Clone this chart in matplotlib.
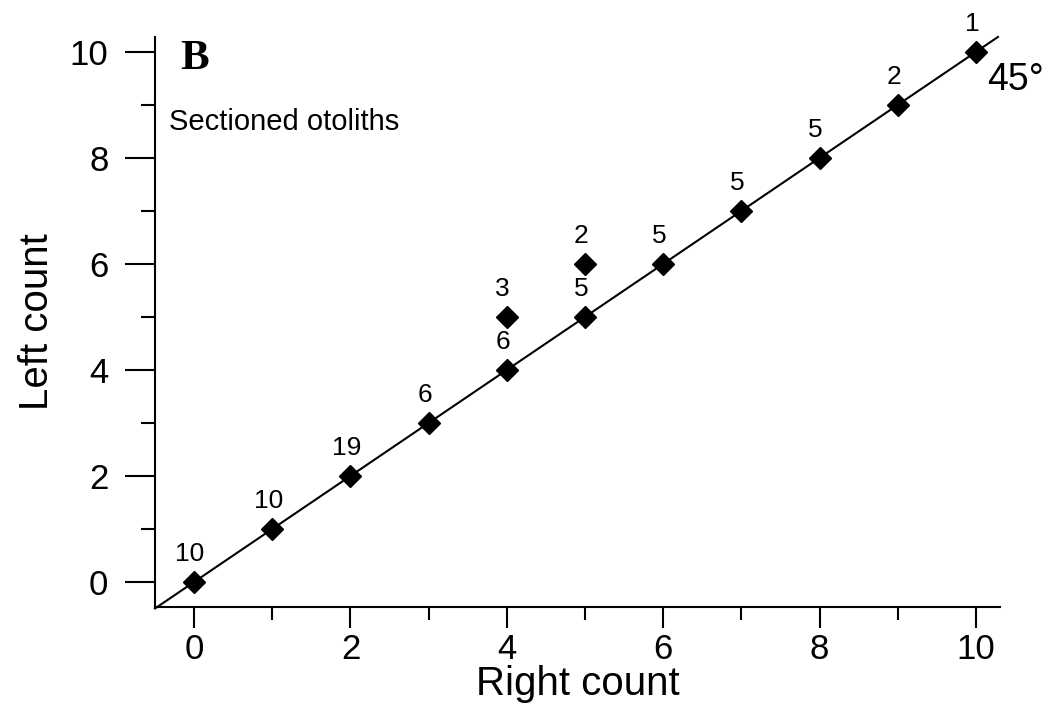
import matplotlib
matplotlib.use("Agg")
import matplotlib.pyplot as plt
from matplotlib.ticker import MultipleLocator

# Data: right vs left otolith counts, with number of fish at each point
right = [0, 1, 2, 3, 4, 4, 5, 5, 6, 7, 8, 9, 10]
left = [0, 1, 2, 3, 4, 5, 5, 6, 6, 7, 8, 9, 10]
n_fish = [10, 10, 19, 6, 6, 3, 5, 2, 5, 5, 5, 2, 1]
line_ends = [-0.5, 10.28]

plt.rcParams['font.family'] = ['Liberation Sans', 'DejaVu Sans']

fig = plt.figure(figsize=(10.56, 7.22), dpi=100)
ax = fig.add_axes([0.1468, 0.1593, 0.8002, 0.7895])

# 45 degree reference line
ax.plot(line_ends, line_ends, color='black', lw=1.5, clip_on=False, zorder=2)

# points
ax.plot(right, left, linestyle='none', marker='D', ms=11.5, color='black',
        clip_on=False, zorder=3)

for x, y, n in zip(right, left, n_fish):
    ax.annotate(str(n), (x, y), xytext=(-3, 20), textcoords='offset points',
                ha='center', va='center', fontsize=19)

ax.set_xlim(-0.5, 10.307)
ax.set_ylim(-0.472, 10.28)

for s in ['top', 'right']:
    ax.spines[s].set_visible(False)
for s in ['left', 'bottom']:
    ax.spines[s].set_linewidth(1.5)

ax.xaxis.set_major_locator(MultipleLocator(2))
ax.xaxis.set_minor_locator(MultipleLocator(1))
ax.yaxis.set_major_locator(MultipleLocator(2))
ax.yaxis.set_minor_locator(MultipleLocator(1))

ax.tick_params(axis='x', which='major', length=15, width=1.5, pad=4, labelsize=25)
ax.tick_params(axis='x', which='minor', length=9, width=1.5)
ax.tick_params(axis='y', which='major', length=21.5, width=1.5, pad=12, labelsize=25)
ax.tick_params(axis='y', which='minor', length=10, width=1.5)

ax.set_xlabel("Right count", fontsize=29, labelpad=-1)
ax.set_ylabel("Left count", fontsize=29, labelpad=10)

ax.text(0.03, 0.995, "B", transform=ax.transAxes, fontsize=31,
        fontweight='bold', family='Liberation Serif', va='top', ha='left')
ax.text(0.016, 0.85, "Sectioned otoliths", transform=ax.transAxes,
        fontsize=21, va='center', ha='left')
ax.text(0.985, 0.925, "45°", transform=ax.transAxes, fontsize=27,
        va='center', ha='left')

fig.savefig("out.png", dpi=100)
